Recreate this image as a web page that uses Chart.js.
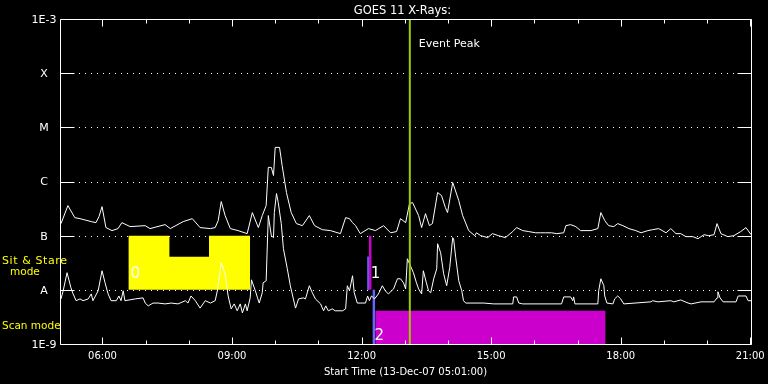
<!DOCTYPE html>
<html><head><meta charset="utf-8">
<script src="https://cdn.jsdelivr.net/npm/chart.js@4/dist/chart.umd.min.js"></script>
<style>html,body{margin:0;padding:0;background:#000;}canvas{display:block}</style>
</head><body>
<canvas id="c" width="768" height="384"></canvas>
<script>
// ---------- data ----------
const startHour = 5 + 1/60;            // 05:01
const endHour = startHour + 16;
const titleText = 'GOES 11 X-Rays:';
const xTitleText = 'Start Time (13-Dec-07 05:01:00)';

// GOES long channel (1-8 A), time in decimal hours, flux in W/m^2
const longTimes = [
 5.04,5.20,5.36,5.48,5.74,5.85,5.92,5.99,6.08,6.22,
 6.36,6.45,6.64,6.99,7.10,7.45,7.57,7.87,8.08,8.26,
 8.50,8.61,8.68,8.75,8.84,8.96,9.14,9.35,9.47,9.61,
 9.70,9.79,9.84,9.91,9.96,10.00,10.10,10.16,10.26,10.37,
 10.49,10.63,10.79,10.91,11.09,11.28,11.51,11.63,11.72,11.79,
 11.86,11.97,12.16,12.32,12.51,12.67,12.81,12.90,13.02,13.11,
 13.18,13.32,13.39,13.48,13.57,13.64,13.76,13.85,13.94,13.99,
 14.11,14.25,14.34,14.48,14.62,14.66,14.76,14.92,15.03,15.17,
 15.33,15.50,15.59,15.73,15.87,16.03,16.15,16.26,16.40,16.52,
 16.68,16.73,16.84,16.96,17.07,17.31,17.47,17.54,17.63,17.72,
 17.84,17.93,18.05,18.19,18.35,18.47,18.63,18.74,18.88,19.05,
 19.16,19.28,19.39,19.51,19.67,19.79,19.86,19.93,20.04,20.16,
 20.23,20.32,20.48,20.62,20.78,20.90,21.02
];
const longFlux = [
 1.67e-7,3.59e-7,2.15e-7,2.06e-7,1.82e-7,1.74e-7,2.25e-7,3.44e-7,1.41e-7,1.24e-7,
 1.35e-7,1.74e-7,1.47e-7,1.53e-7,1.35e-7,1.60e-7,1.35e-7,1.82e-7,2.06e-7,1.41e-7,
 1.35e-7,1.41e-7,1.90e-7,4.26e-7,2.35e-7,1.35e-7,1.24e-7,1.09e-7,2.67e-7,1.41e-7,
 2.35e-7,3.59e-7,1.82e-6,1.82e-6,1.29e-6,4.26e-6,4.26e-6,1.98e-6,6.26e-7,2.67e-7,
 1.67e-7,1.53e-7,2.35e-7,1.53e-7,1.29e-7,1.24e-7,1.09e-7,2.15e-7,2.06e-7,1.74e-7,
 1.53e-7,1.09e-7,1.35e-7,1.24e-7,1.53e-7,1.13e-7,1.19e-7,2.06e-7,1.74e-7,3.91e-7,
 4.09e-7,2.35e-7,1.41e-7,2.55e-7,1.53e-7,1.67e-7,6.26e-7,5.51e-7,3.30e-7,2.67e-7,
 9.58e-7,4.45e-7,2.35e-7,1.24e-7,1.00e-7,1.13e-7,1.00e-7,0.92e-7,1.09e-7,1.00e-7,
 0.92e-7,1.19e-7,1.41e-7,1.24e-7,1.19e-7,1.13e-7,1.13e-7,1.13e-7,1.13e-7,1.09e-7,
 1.13e-7,1.53e-7,1.60e-7,1.47e-7,1.24e-7,1.24e-7,1.35e-7,2.67e-7,1.90e-7,1.53e-7,
 1.47e-7,1.67e-7,1.53e-7,1.35e-7,1.24e-7,1.13e-7,1.24e-7,1.29e-7,1.35e-7,1.13e-7,
 1.35e-7,1.09e-7,1.09e-7,0.96e-7,0.96e-7,0.88e-7,0.96e-7,1.04e-7,1.00e-7,1.04e-7,
 1.67e-7,1.09e-7,0.96e-7,1.00e-7,1.19e-7,1.41e-7,1.04e-7
];

// GOES short channel (0.5-4 A)
const shortTimes = [
 5.04,5.09,5.18,5.27,5.32,5.39,5.48,5.55,5.67,5.74,
 5.78,5.90,5.99,6.06,6.13,6.20,6.32,6.38,6.43,6.48,
 6.52,6.76,6.94,6.99,7.06,7.17,7.29,7.45,7.59,7.75,
 7.92,7.98,8.05,8.15,8.26,8.38,8.50,8.61,8.66,8.75,
 8.84,8.91,8.98,9.05,9.12,9.19,9.24,9.31,9.35,9.42,
 9.45,9.54,9.59,9.63,9.70,9.72,9.79,9.84,9.91,9.96,
 9.98,10.03,10.07,10.14,10.19,10.28,10.35,10.42,10.47,10.51,
 10.54,10.65,10.70,10.79,10.86,10.93,11.05,11.12,11.17,11.23,
 11.32,11.39,11.56,11.63,11.67,11.72,11.79,11.83,11.90,12.09,
 12.14,12.18,12.23,12.30,12.39,12.48,12.55,12.62,12.74,12.83,
 12.90,12.97,13.02,13.06,13.11,13.20,13.27,13.32,13.39,13.43,
 13.50,13.55,13.60,13.67,13.74,13.76,13.83,13.90,13.97,14.04,
 14.11,14.13,14.18,14.25,14.32,14.36,14.41,14.83,15.06,15.50,
 15.52,15.59,15.64,15.73,16.63,16.68,16.84,16.89,16.91,16.94,
 17.47,17.49,17.54,17.61,17.63,17.68,17.82,17.86,17.93,18.00,
 18.07,18.70,18.74,18.86,19.16,19.23,19.39,19.56,19.63,19.86,
 20.16,20.23,20.25,20.30,20.37,20.67,20.72,20.90,20.95,21.02
];
const shortFlux = [
 6.8e-9,9.6e-9,2.07e-8,1.09e-8,8.4e-9,6.3e-9,6.8e-9,6.3e-9,6.8e-9,8.4e-9,
 6.3e-9,9.6e-9,2.25e-8,1.35e-8,8.4e-9,6.3e-9,6.3e-9,7.7e-9,6.3e-9,9.6e-9,
 6.3e-9,6.8e-9,7.1e-9,5.7e-9,5.05e-9,5.7e-9,5.7e-9,5.5e-9,5.7e-9,5.5e-9,
 6.3e-9,5.7e-9,7.7e-9,6.3e-9,4.6e-9,6.3e-9,5.7e-9,6.3e-9,9.6e-9,3.16e-8,
 1.98e-8,7.7e-9,4.45e-9,5.5e-9,4.1e-9,5.5e-9,3.75e-9,5.5e-9,4.1e-9,7.1e-9,
 1.53e-8,9.6e-9,7.1e-9,5.7e-9,8.8e-9,1.35e-8,1.47e-8,2.35e-7,1.0e-7,9.2e-8,
 2.68e-7,6.0e-7,4.08e-7,1.67e-7,5.74e-8,2.45e-8,1.19e-8,6.8e-9,4.6e-9,5.7e-9,
 6.8e-9,7.1e-9,6.8e-9,1.19e-8,8.8e-9,6.8e-9,5.5e-9,4.1e-9,5.05e-9,4.1e-9,
 4.45e-9,4.1e-9,4.1e-9,4.45e-9,1.19e-8,9.6e-9,1.82e-8,8.8e-9,5.7e-9,5.7e-9,
 7.7e-9,6.3e-9,7.7e-9,6.8e-9,8.4e-9,1.19e-8,9.6e-9,8.4e-9,1.04e-8,1.60e-8,
 1.60e-8,1.35e-8,1.04e-8,3.75e-8,3.03e-8,2.07e-8,1.35e-8,1.04e-8,8.4e-9,2.25e-8,
 1.35e-8,9.6e-9,8.8e-9,1.60e-8,2.45e-8,7.1e-8,4.84e-8,1.98e-8,1.19e-8,2.56e-8,
 9.2e-8,8.8e-8,3.92e-8,1.47e-8,9.6e-9,6.3e-9,5.7e-9,5.7e-9,5.5e-9,5.5e-9,
 7.4e-9,7.4e-9,5.7e-9,5.5e-9,5.5e-9,7.4e-9,7.4e-9,6.3e-9,7.4e-9,5.5e-9,
 5.5e-9,9.6e-9,1.60e-8,1.19e-8,7.7e-9,5.7e-9,5.5e-9,6.8e-9,7.7e-9,6.8e-9,
 5.5e-9,6.0e-9,6.3e-9,6.0e-9,6.3e-9,6.0e-9,6.5e-9,5.7e-9,5.5e-9,6.0e-9,
 6.0e-9,7.1e-9,9.2e-9,7.1e-9,6.0e-9,6.0e-9,7.7e-9,7.7e-9,6.3e-9,6.3e-9
];

// Axis ticks
const yTickValues = [1e-3, 1e-4, 1e-5, 1e-6, 1e-7, 1e-8, 1e-9];
const yTickLabels = ['1E-3', 'X', 'M', 'C', 'B', 'A', '1E-9'];
const xMajorHours = [6, 9, 12, 15, 18, 21];
const xTickLabels = ['06:00', '09:00', '12:00', '15:00', '18:00', '21:00'];
const xMinorHours = [6,7,8,9,10,11,12,13,14,15,16,17,18,19,20,21];

// Event peak
const eventPeakTime = '13:07';
const eventLabel = 'Event Peak';

// Observation modes (bands in flux units)
const sitStareBand = [1e-8, 1e-7];
const scanBand = [1e-9, 1e-8];
const modeNames = ['Sit & Stare', 'mode', 'Scan mode'];
// Sit & Stare observation 0 (with notch)
const obs0Times = ['06:36', '07:33', '07:33', '08:28', '08:28', '09:25'];
const obs0Top = [1e-7, 1e-7, 4.1e-8, 4.1e-8, 1e-7, 1e-7];
// Sit & Stare observation 1
const obs1Times = ['12:10', '12:14'];
const obs1Top = [1e-7, 1e-7];
const obs1bTimes = ['12:09', '12:09'];
const obs1bFlux = [4.1e-8, 1e-8];
// Scan observation 2
const obs2aTimes = ['12:15', '12:19'];
const obs2aTop = [1e-8, 1e-8];
const obs2Times = ['12:19', '17:39'];
const obs2Top = [4.1e-9, 4.1e-9];
const modeLabelText = ['0', '1', '2'];
const modeLabelTimes = ['06:36', '12:10', '12:15'];
const modeLabelBandBottom = [1e-8, 1e-8, 1e-9];

// ---------- helpers ----------
const hm = s => { const [h, m] = s.split(':').map(Number); return h + m / 60; };
const pts = (xs, ys, conv) => xs.map((x, i) => ({ x: conv ? hm(x) : x, y: ys[i] }));
const eventT = hm(eventPeakTime);

const FONT = '"DejaVu Sans", sans-serif';

const decor = {
  id: 'decor',
  beforeDraw(chart) {
    const c = chart.ctx;
    c.save();
    c.fillStyle = '#000';
    c.fillRect(0, 0, chart.width, chart.height);
    c.restore();
  },
  beforeDatasetsDraw(chart) {
    const c = chart.ctx, a = chart.chartArea, ys = chart.scales.y;
    c.save();
    c.strokeStyle = '#fff';
    c.lineWidth = 1;
    c.setLineDash([1, 5]);
    yTickValues.forEach(v => {
      if (v === 1e-3 || v === 1e-9) return;
      const y = Math.round(ys.getPixelForValue(v)) + 0.5;
      c.beginPath();
      c.moveTo(a.left + 19, y);
      c.lineTo(a.right - 14, y);
      c.stroke();
    });
    c.restore();
  },
  afterDraw(chart) {
    const c = chart.ctx, a = chart.chartArea, xs = chart.scales.x, ys = chart.scales.y;
    c.save();
    c.strokeStyle = '#fff';
    c.lineWidth = 1;
    c.setLineDash([]);
    const L = a.left + 0.5, R = Math.round(a.right) + 0.5, T = Math.round(a.top) + 0.5, B = Math.round(a.bottom) + 0.5;
    c.beginPath();
    c.moveTo(L, T); c.lineTo(R, T); c.lineTo(R, B); c.lineTo(L, B); c.closePath();
    c.stroke();
    // y ticks (inside, both sides)
    yTickValues.forEach(v => {
      const y = Math.round(ys.getPixelForValue(v)) + 0.5;
      c.beginPath();
      c.moveTo(L, y); c.lineTo(L + 14, y);
      c.moveTo(R, y); c.lineTo(R - 14, y);
      c.stroke();
    });
    // x ticks (inside, top and bottom)
    xMinorHours.forEach(h => {
      const x = Math.round(xs.getPixelForValue(h)) + 0.5;
      const len = xMajorHours.includes(h) ? 7 : 4;
      c.beginPath();
      c.moveTo(x, B); c.lineTo(x, B - len);
      c.moveTo(x, T); c.lineTo(x, T + len);
      c.stroke();
    });
    // texts
    c.fillStyle = '#fff';
    c.font = '11px ' + FONT;
    c.textAlign = 'center';
    c.textBaseline = 'middle';
    yTickValues.forEach((v, i) => {
      c.fillText(yTickLabels[i], a.left - 16, ys.getPixelForValue(v) + 1);
    });
    c.font = '10px ' + FONT;
    c.textBaseline = 'alphabetic';
    xMajorHours.forEach((h, i) => {
      c.fillText(xTickLabels[i], xs.getPixelForValue(h), a.bottom + 15);
    });
    c.fillText(xTitleText, (a.left + a.right) / 2, a.bottom + 31);
    c.font = '11.5px ' + FONT;
    c.fillText(titleText, (a.left + a.right) / 2 - 3, 14);
    // event label
    c.font = '11px ' + FONT;
    c.textAlign = 'left';
    c.fillText(eventLabel, xs.getPixelForValue(eventT) + 9, a.top + 28);
    // mode labels on the left
    c.fillStyle = '#ffff00';
    c.font = '11px ' + FONT;
    const ssMid = ys.getPixelForValue(Math.sqrt(sitStareBand[0] * sitStareBand[1]));
    const scMid = ys.getPixelForValue(Math.sqrt(scanBand[0] * scanBand[1]));
    c.letterSpacing = '0.6px';
    c.fillText(modeNames[0], 2, ssMid + 1);
    c.letterSpacing = '0px';
    c.font = '10.5px ' + FONT;
    c.fillText(modeNames[1], 10, ssMid + 12);
    c.fillText(modeNames[2], 2, scMid + 12);
    // observation number labels
    c.fillStyle = '#fff';
    c.font = '15px ' + FONT;
    modeLabelText.forEach((t, i) => {
      const x = xs.getPixelForValue(hm(modeLabelTimes[i])) + 2;
      const y = ys.getPixelForValue(modeLabelBandBottom[i]) - (i === 2 ? 4 : 12);
      c.fillText(t, x, y);
    });
    c.restore();
  }
};

const barDs = (data, color, target, order) => ({
  data, borderColor: 'rgba(0,0,0,0)', borderWidth: 1, backgroundColor: color,
  fill: { value: target }, pointRadius: 0, tension: 0, order
});

new Chart(document.getElementById('c'), {
  type: 'line',
  data: {
    datasets: [
      { data: pts([eventPeakTime, eventPeakTime], [1e-9, 1e-3], true), borderColor: '#9ccc00', borderWidth: 2, pointRadius: 0, fill: false, order: 0 },
      { data: pts(longTimes, longFlux), borderColor: '#ffffff', borderWidth: 1, pointRadius: 0, tension: 0, fill: false, order: 1 },
      { data: pts(shortTimes, shortFlux), borderColor: '#ffffff', borderWidth: 1, pointRadius: 0, tension: 0, fill: false, order: 1 },
      barDs(pts(obs0Times, obs0Top, true), '#ffff00', sitStareBand[0], 3),
      barDs(pts(obs1Times, obs1Top, true), '#cc00cc', sitStareBand[0], 3),
      barDs(pts(obs2aTimes, obs2aTop, true), '#6666ff', scanBand[0], 3),
      barDs(pts(obs2Times, obs2Top, true), '#cc00cc', scanBand[0], 3),
      { data: pts(obs1bTimes, obs1bFlux, true), borderColor: '#6666ff', borderWidth: 1, pointRadius: 0, fill: false, order: 2 }
    ]
  },
  options: {
    responsive: false,
    animation: false,
    devicePixelRatio: 1,
    events: [],
    layout: { padding: { left: 60, right: 17, top: 19, bottom: 40 } },
    plugins: { legend: { display: false }, tooltip: { enabled: false }, title: { display: false } },
    scales: {
      x: { type: 'linear', min: startHour, max: endHour, display: false },
      y: { type: 'logarithmic', min: 1e-9, max: 1e-3, display: false }
    }
  },
  plugins: [decor]
});
</script>
</body></html>
